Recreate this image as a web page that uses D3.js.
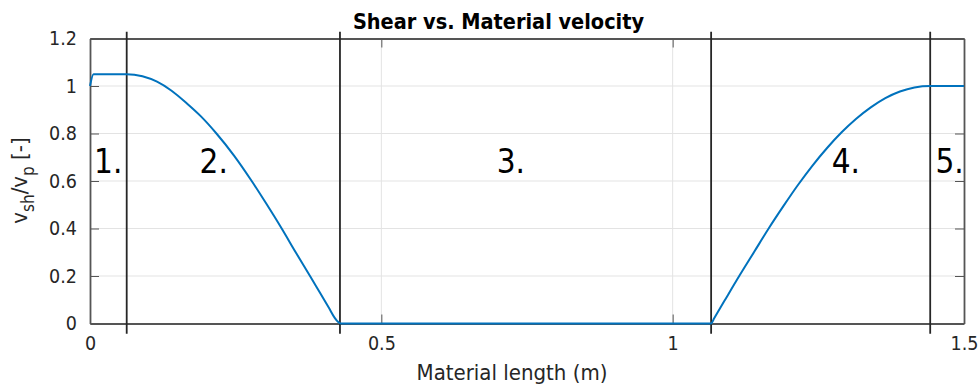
<!DOCTYPE html>
<html>
<head>
<meta charset="utf-8">
<script src="https://cdn.jsdelivr.net/npm/d3@7"></script>
<style>
  body { margin: 0; background: #fff; }
  svg text { font-family: "DejaVu Sans Condensed", "DejaVu Sans", sans-serif; font-stretch: condensed; fill: #262626; }
</style>
</head>
<body>
<div id="chart"></div>
<script>
// curve samples (x in m, y = v_sh / v_p)
const lengthX = [0, 0.006, 0.063, 0.09, 0.115, 0.14, 0.166, 0.19, 0.217, 0.2475, 0.2775, 0.303, 0.329, 0.353, 0.3776, 0.395, 0.41, 0.42, 0.426, 0.43,
  1.066, 1.071, 1.09, 1.115, 1.14, 1.165, 1.19, 1.215, 1.24, 1.265, 1.29, 1.315, 1.34, 1.365, 1.39, 1.415, 1.442, 1.5];
const velRatio = [1, 1.05, 1.05, 1.041, 1.018, 0.98, 0.927, 0.873, 0.8, 0.706, 0.6, 0.503, 0.4, 0.3, 0.2, 0.128, 0.066, 0.024, 0.006, 0,
  0, 0.021, 0.1, 0.203, 0.302, 0.401, 0.494, 0.583, 0.665, 0.739, 0.805, 0.862, 0.91, 0.949, 0.977, 0.994, 1.0, 1.0];

// zone boundaries and zone labels
const boundaries = [0.063, 0.429, 1.066, 1.442];
const zoneLabels = ["1.", "2.", "3.", "4.", "5."];
const zoneLabelX = [0.007, 0.188, 0.698, 1.273, 1.451];
const zoneLabelY = 0.635;

const xTicks = [0, 0.5, 1, 1.5];
const yTicks = [0, 0.2, 0.4, 0.6, 0.8, 1, 1.2];

const W = 978, H = 384;
const margin = { top: 38.5, right: 14, bottom: 60.5, left: 90 };

const svg = d3.select("#chart").append("svg")
  .attr("width", W)
  .attr("height", H);

const x = d3.scaleLinear().domain([0, 1.5]).range([margin.left, W - margin.right]);
const y = d3.scaleLinear().domain([0, 1.2]).range([H - margin.bottom, margin.top]);

// grid
svg.append("g").selectAll("line")
  .data(yTicks.slice(1, -1))
  .enter().append("line")
  .attr("x1", x(0)).attr("x2", x(1.5))
  .attr("y1", d => y(d)).attr("y2", d => y(d))
  .attr("stroke", "#e3e3e3").attr("stroke-width", 1);

svg.append("g").selectAll("line")
  .data(xTicks.slice(1, -1))
  .enter().append("line")
  .attr("x1", d => x(d)).attr("x2", d => x(d))
  .attr("y1", y(0)).attr("y2", y(1.2))
  .attr("stroke", "#e3e3e3").attr("stroke-width", 1);

// axes (inward ticks, box)
const axisColor = "#555";
function styleAxis(g) {
  g.select(".domain").attr("stroke", axisColor).attr("stroke-width", 1.8);
  g.selectAll(".tick line").attr("stroke", axisColor).attr("stroke-width", 1);
  g.selectAll(".tick text").attr("fill", "#262626").style("font-size", "19.5px");
}

svg.append("g")
  .attr("transform", `translate(0,${y(0)})`)
  .call(d3.axisBottom(x).tickValues(xTicks).tickFormat(d3.format("")).tickSizeInner(-9).tickSizeOuter(0).tickPadding(13))
  .call(styleAxis);

svg.append("g")
  .attr("transform", `translate(0,${y(1.2)})`)
  .call(d3.axisTop(x).tickValues(xTicks).tickFormat("").tickSizeInner(-9).tickSizeOuter(0))
  .call(styleAxis);

svg.append("g")
  .attr("transform", `translate(${x(0)},0)`)
  .call(d3.axisLeft(y).tickValues(yTicks).tickFormat(d3.format("")).tickSizeInner(-9).tickSizeOuter(0).tickPadding(13))
  .call(styleAxis);

svg.append("g")
  .attr("transform", `translate(${x(1.5)},0)`)
  .call(d3.axisRight(y).tickValues(yTicks).tickFormat("").tickSizeInner(-9).tickSizeOuter(0))
  .call(styleAxis);

// zone boundaries, drawn a bit past the axes
svg.append("g").selectAll("line")
  .data(boundaries)
  .enter().append("line")
  .attr("x1", d => x(d)).attr("x2", d => x(d))
  .attr("y1", y(-0.043)).attr("y2", y(1.228))
  .attr("stroke", "#262626").attr("stroke-width", 1.8);

// the curve
const line = d3.line()
  .x((d, i) => x(lengthX[i]))
  .y(d => y(d))
  .curve(d3.curveMonotoneX);

svg.append("path")
  .datum(velRatio)
  .attr("d", line)
  .attr("fill", "none")
  .attr("stroke", "#0072BD")
  .attr("stroke-width", 2);

// zone labels
svg.append("g").selectAll("text")
  .data(zoneLabels)
  .enter().append("text")
  .attr("x", (d, i) => x(zoneLabelX[i]))
  .attr("y", y(zoneLabelY))
  .style("font-size", "33px")
  .style("fill", "#000")
  .text(d => d);

// title
svg.append("text")
  .attr("x", 498.5)
  .attr("y", 29)
  .attr("text-anchor", "middle")
  .style("font-size", "21.5px")
  .style("font-weight", "bold")
  .style("fill", "#000")
  .text("Shear vs. Material velocity");

// x label
svg.append("text")
  .attr("x", 512)
  .attr("y", 380)
  .attr("text-anchor", "middle")
  .style("font-size", "22px")
  .text("Material length (m)");

// y label with subscripts
const yl = svg.append("text")
  .attr("transform", "translate(27,180.5) rotate(-90)")
  .attr("text-anchor", "middle")
  .style("font-size", "22px");
yl.append("tspan").text("v");
yl.append("tspan").attr("dy", 7).style("font-size", "17px").text("sh");
yl.append("tspan").attr("dy", -7).text("/v");
yl.append("tspan").attr("dy", 7).style("font-size", "17px").text("p");
yl.append("tspan").attr("dy", -7).text(" [-]");
</script>
</body>
</html>
